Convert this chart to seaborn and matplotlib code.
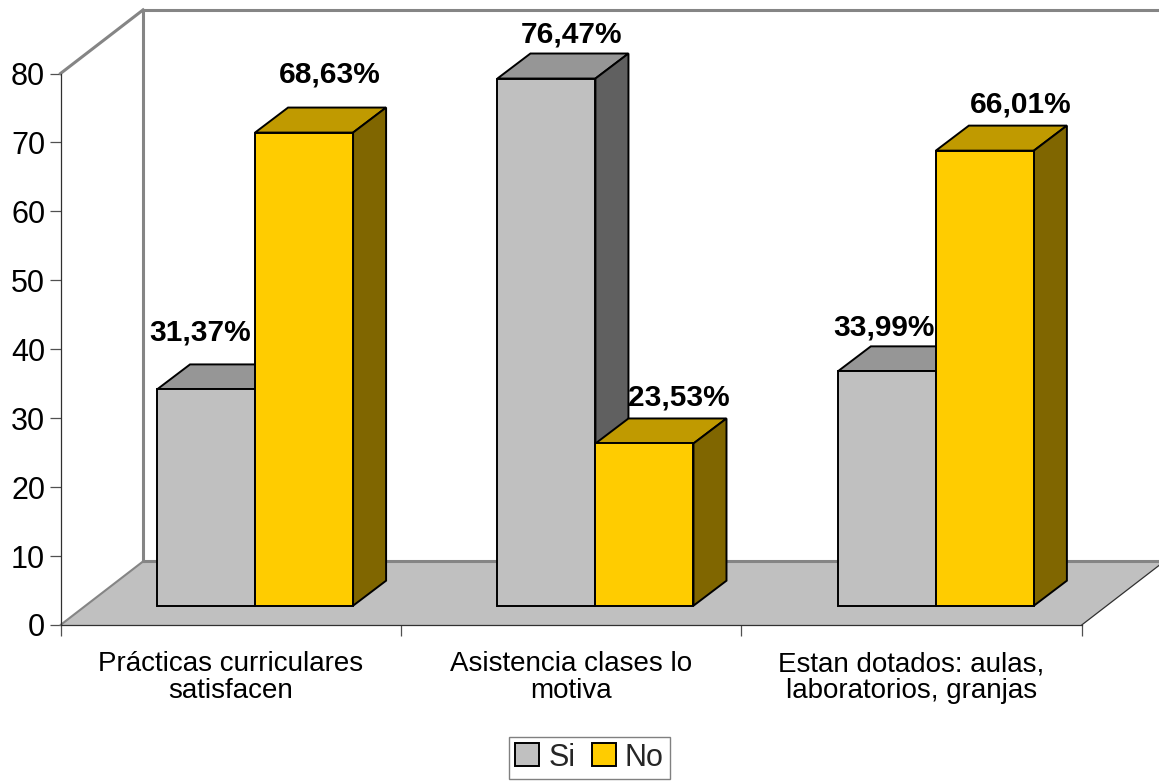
"""Pseudo 3D clustered bars: Si / No answers for three survey items."""

import matplotlib
matplotlib.use("Agg")
import matplotlib.pyplot as plt
import pandas as pd
import seaborn as sns
from matplotlib.patches import Polygon

categories = ["Prácticas curriculares\nsatisfacen", "Asistencia clases lo\nmotiva", "Estan dotados: aulas,\nlaboratorios, granjas"]
series_names = ["Si", "No"]
si_values = [31.37, 76.47, 33.99]
no_values = [68.63, 23.53, 66.01]
si_labels = ["31,37%", "76,47%", "33,99%"]
no_labels = ["68,63%", "23,53%", "66,01%"]
y_ticks = [0, 10, 20, 30, 40, 50, 60, 70, 80]

# label nudges in pixels (dx, dy), the original labels were placed by hand
si_nudges = [(-6, 49), (25, 36), (-3, 36)]
no_nudges = [(26, 50), (34, 38), (36, 38)]

FACES = {
    "Si": ("#C0C0C0", "#969696", "#606060"),
    "No": ("#FFCC00", "#C09A00", "#806600"),
}

W, H = 1159, 781
FONT = "Liberation Sans"

# depth vectors, in data units
WALL_DX, WALL_DY = 0.2424, 9.22
BAR_DX, BAR_DY = 0.097, 3.63
SHIFT_X, SHIFT_Y = 0.0715, 2.8

sns.set_theme(style="white")
plt.rcParams["font.family"] = [FONT, "DejaVu Sans"]

df = pd.DataFrame({
    "categoria": categories * 2,
    "serie": [series_names[0]] * 3 + [series_names[1]] * 3,
    "valor": si_values + no_values,
})

fig = plt.figure(figsize=(W / 100, H / 100), dpi=100, facecolor="white")
ax = fig.add_axes([60.5 / W, (H - 625) / H, 1021.2 / W, 551.5 / H])
ax.patch.set_alpha(0)

sns.barplot(
    data=df, x="categoria", y="valor", hue="serie", palette=[FACES["Si"][0], FACES["No"][0]],
    width=0.576, gap=0, saturation=1, edgecolor="black", linewidth=1.4, ax=ax,
)
ax.set_xlim(-0.5, 2.5)
ax.set_ylim(0, 80)
ax.set_xlabel("")
ax.set_ylabel("")

# walls and floor
x0, x1 = -0.5, 2.5
ax.add_patch(Polygon(
    [(x0, 0), (x1, 0), (x1 + WALL_DX, WALL_DY), (x0 + WALL_DX, WALL_DY)],
    facecolor="#C0C0C0", edgecolor="none", clip_on=False, zorder=1,
))
wall = dict(color="#858585", lw=2.2, clip_on=False, zorder=1.5, solid_capstyle="projecting")
ax.plot([x0, x0 + WALL_DX], [80, 80 + WALL_DY], **wall)
ax.plot([x0 + WALL_DX, x1 + WALL_DX], [80 + WALL_DY, 80 + WALL_DY], **wall)
ax.plot([x0 + WALL_DX, x0 + WALL_DX], [WALL_DY, 80 + WALL_DY], **wall)
ax.plot([x0 + WALL_DX, x1 + WALL_DX], [WALL_DY, WALL_DY], **wall)
ax.plot([x0, x0 + WALL_DX], [0, WALL_DY], color="#858585", lw=1.5, clip_on=False, zorder=1.5)
ax.plot([x1, x1 + WALL_DX], [0, WALL_DY], color="#303030", lw=0.9, clip_on=False, zorder=1.5)

# move the seaborn bars onto the front plane and add top and side faces
z = 2
for name, container, labels, nudges in zip(
    series_names, ax.containers, [si_labels, no_labels], [si_nudges, no_nudges]
):
    _, top_color, side_color = FACES[name]
    for i, bar in enumerate(container):
        bar.set_x(bar.get_x() + SHIFT_X)
        bar.set_y(SHIFT_Y)
        left = bar.get_x()
        right = left + bar.get_width()
        low = SHIFT_Y
        high = SHIFT_Y + bar.get_height()
        # Si comes first per category, No must cover its side face
        base = z + i * 10 + (3 if name == "No" else 0)
        ax.add_patch(Polygon(
            [(left, high), (right, high), (right + BAR_DX, high + BAR_DY), (left + BAR_DX, high + BAR_DY)],
            facecolor=top_color, edgecolor="black", lw=1.4, joinstyle="miter", clip_on=False, zorder=base,
        ))
        ax.add_patch(Polygon(
            [(right, low), (right + BAR_DX, low + BAR_DY), (right + BAR_DX, high + BAR_DY), (right, high)],
            facecolor=side_color, edgecolor="black", lw=1.4, joinstyle="miter", clip_on=False, zorder=base,
        ))
        bar.set_zorder(base + 1)
        bar.set_clip_on(False)
        ax.annotate(
            labels[i], xy=((left + right) / 2, high), xytext=nudges[i], textcoords="offset pixels",
            ha="center", va="baseline", fontsize=21.5, fontweight="bold", color="black",
            annotation_clip=False, zorder=100,
        )

sns.despine(ax=ax)
for side in ("left", "bottom"):
    ax.spines[side].set_color("#303030")
    ax.spines[side].set_linewidth(0.9)
    ax.spines[side].set_zorder(1.6)

ax.set_yticks(y_ticks)
ax.tick_params(axis="y", left=True, length=8, width=0.9, color="#505050", labelsize=22, labelcolor="black", pad=3)
ax.set_xticks([0, 1, 2])
ax.set_xticklabels(categories, fontsize=20, color="black", linespacing=1.05)
ax.set_xticks([-0.5, 0.5, 1.5, 2.5], minor=True)
ax.tick_params(axis="x", which="major", length=0, pad=19)
ax.tick_params(axis="x", which="minor", bottom=True, length=8, width=0.9, color="#505050")

sns.move_legend(
    ax, "upper left", bbox_to_anchor=(509 / W, (H - 736.5) / H), bbox_transform=fig.transFigure,
    title=None, ncol=2, fontsize=22, frameon=True, fancybox=False, edgecolor="#808080",
    framealpha=1, borderpad=0.2, borderaxespad=0, handlelength=0.78, handleheight=0.78,
    handletextpad=0.3, columnspacing=0.55,
)
ax.get_legend().get_frame().set_linewidth(1.0)

fig.savefig("out.png", dpi=100)
